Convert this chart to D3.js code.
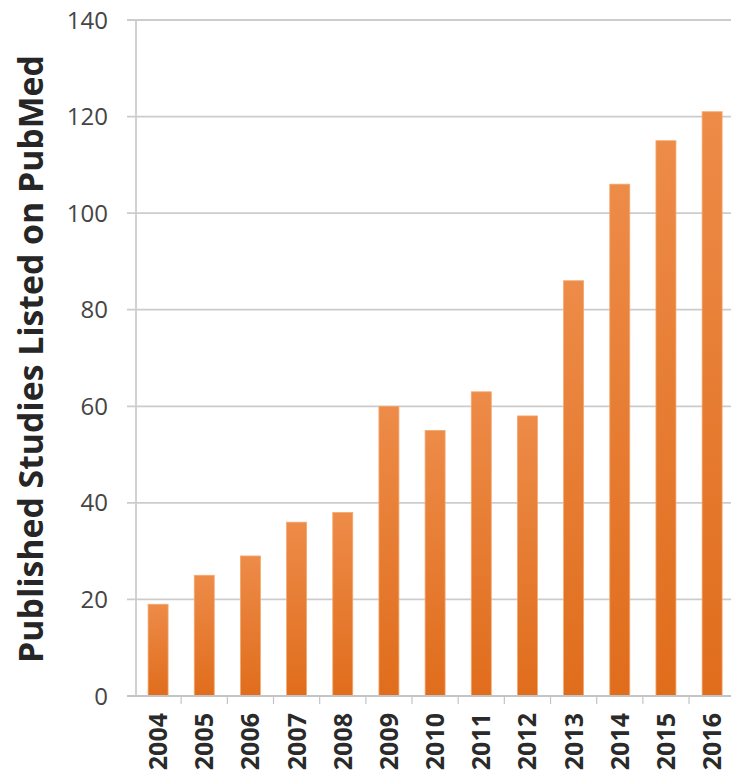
<!DOCTYPE html>
<html>
<head>
<meta charset="utf-8">
<script src="https://cdn.jsdelivr.net/npm/d3@7"></script>
<style>
  html, body { margin: 0; padding: 0; background: #fff; }
  svg { display: block; }
</style>
</head>
<body>
<script>
const years = ["2004","2005","2006","2007","2008","2009","2010","2011","2012","2013","2014","2015","2016"];
const studies = [19, 25, 29, 36, 38, 60, 55, 63, 58, 86, 106, 115, 121];
const yTicks = [0, 20, 40, 60, 80, 100, 120, 140];
const yTitle = "Published Studies Listed on PubMed";

const W = 731, H = 779;
const svg = d3.select("body").append("svg").attr("width", W).attr("height", H);

const defs = svg.append("defs");
const grad = defs.append("linearGradient").attr("id", "barGrad")
  .attr("x1", 0).attr("y1", 0).attr("x2", 0).attr("y2", 1);
grad.append("stop").attr("offset", "0%").attr("stop-color", "#ed8b48");
grad.append("stop").attr("offset", "100%").attr("stop-color", "#e06d1c");

const y = d3.scaleLinear().domain([0, 140]).range([696, 20]);
const x = d3.scaleBand().domain(years).range([135, 735.2]).paddingInner(0.567).paddingOuter(0.2835);
const axisX = 136;

// gridlines
svg.append("g").selectAll("line").data(yTicks.filter(d => d > 0)).join("line")
  .attr("x1", 127).attr("x2", W)
  .attr("y1", d => y(d)).attr("y2", d => y(d))
  .attr("stroke", "#cccccc").attr("stroke-width", 1.8);

// vertical axis line
svg.append("line").attr("x1", axisX).attr("x2", axisX).attr("y1", y(140)).attr("y2", y(0))
  .attr("stroke", "#cccccc").attr("stroke-width", 1.8);

// y tick labels
svg.append("g").selectAll("text").data(yTicks).join("text")
  .attr("x", 108).attr("y", d => y(d)).attr("dy", "0.36em")
  .attr("text-anchor", "end")
  .attr("font-family", "'Open Sans', sans-serif").attr("font-size", 24)
  .attr("fill", "#454545")
  .text(d => d);

// bars
svg.append("g").selectAll("rect").data(years).join("rect")
  .attr("x", (d) => x(d))
  .attr("width", x.bandwidth())
  .attr("y", (d, i) => y(studies[i]))
  .attr("height", (d, i) => y(0) - y(studies[i]))
  .attr("fill", "url(#barGrad)")
  .attr("stroke", "#f3a86f").attr("stroke-width", 0.8);

// x axis baseline with ticks
const xAxis = d3.axisBottom(x).tickSize(0).tickFormat("");
const gx = svg.append("g").attr("transform", `translate(0,${y(0)})`).call(xAxis);
gx.select(".domain").attr("stroke", "#c4c4c4").attr("stroke-width", 1.8).attr("d", `M127,0H${W}`);
gx.selectAll(".tick").remove();
const boundaries = years.map(d => x(d) - x.step() * x.paddingInner() / 2).slice(1);
gx.append("g").selectAll("line").data(boundaries).join("line")
  .attr("x1", d => d).attr("x2", d => d).attr("y1", 0).attr("y2", 8)
  .attr("stroke", "#c4c4c4").attr("stroke-width", 1.2);

// x labels rotated
svg.append("g").selectAll("text").data(years).join("text")
  .attr("transform", d => `translate(${x(d) + x.bandwidth() / 2},713) rotate(-90)`)
  .attr("dy", "0.36em")
  .attr("text-anchor", "end")
  .attr("font-family", "'Open Sans', sans-serif").attr("font-size", 25).attr("font-weight", "bold")
  .attr("fill", "#2a2a2a")
  .text(d => d);

// y title
const title = svg.append("text")
  .attr("transform", `translate(43,359) rotate(-90)`)
  .attr("text-anchor", "middle")
  .attr("font-family", "'Open Sans', sans-serif").attr("font-size", 30).attr("font-weight", "bold")
  .attr("fill", "#262626")
  .text(yTitle);
const len = title.node().getComputedTextLength();
title.attr("font-size", 30 * 608 / len);
</script>
</body>
</html>
